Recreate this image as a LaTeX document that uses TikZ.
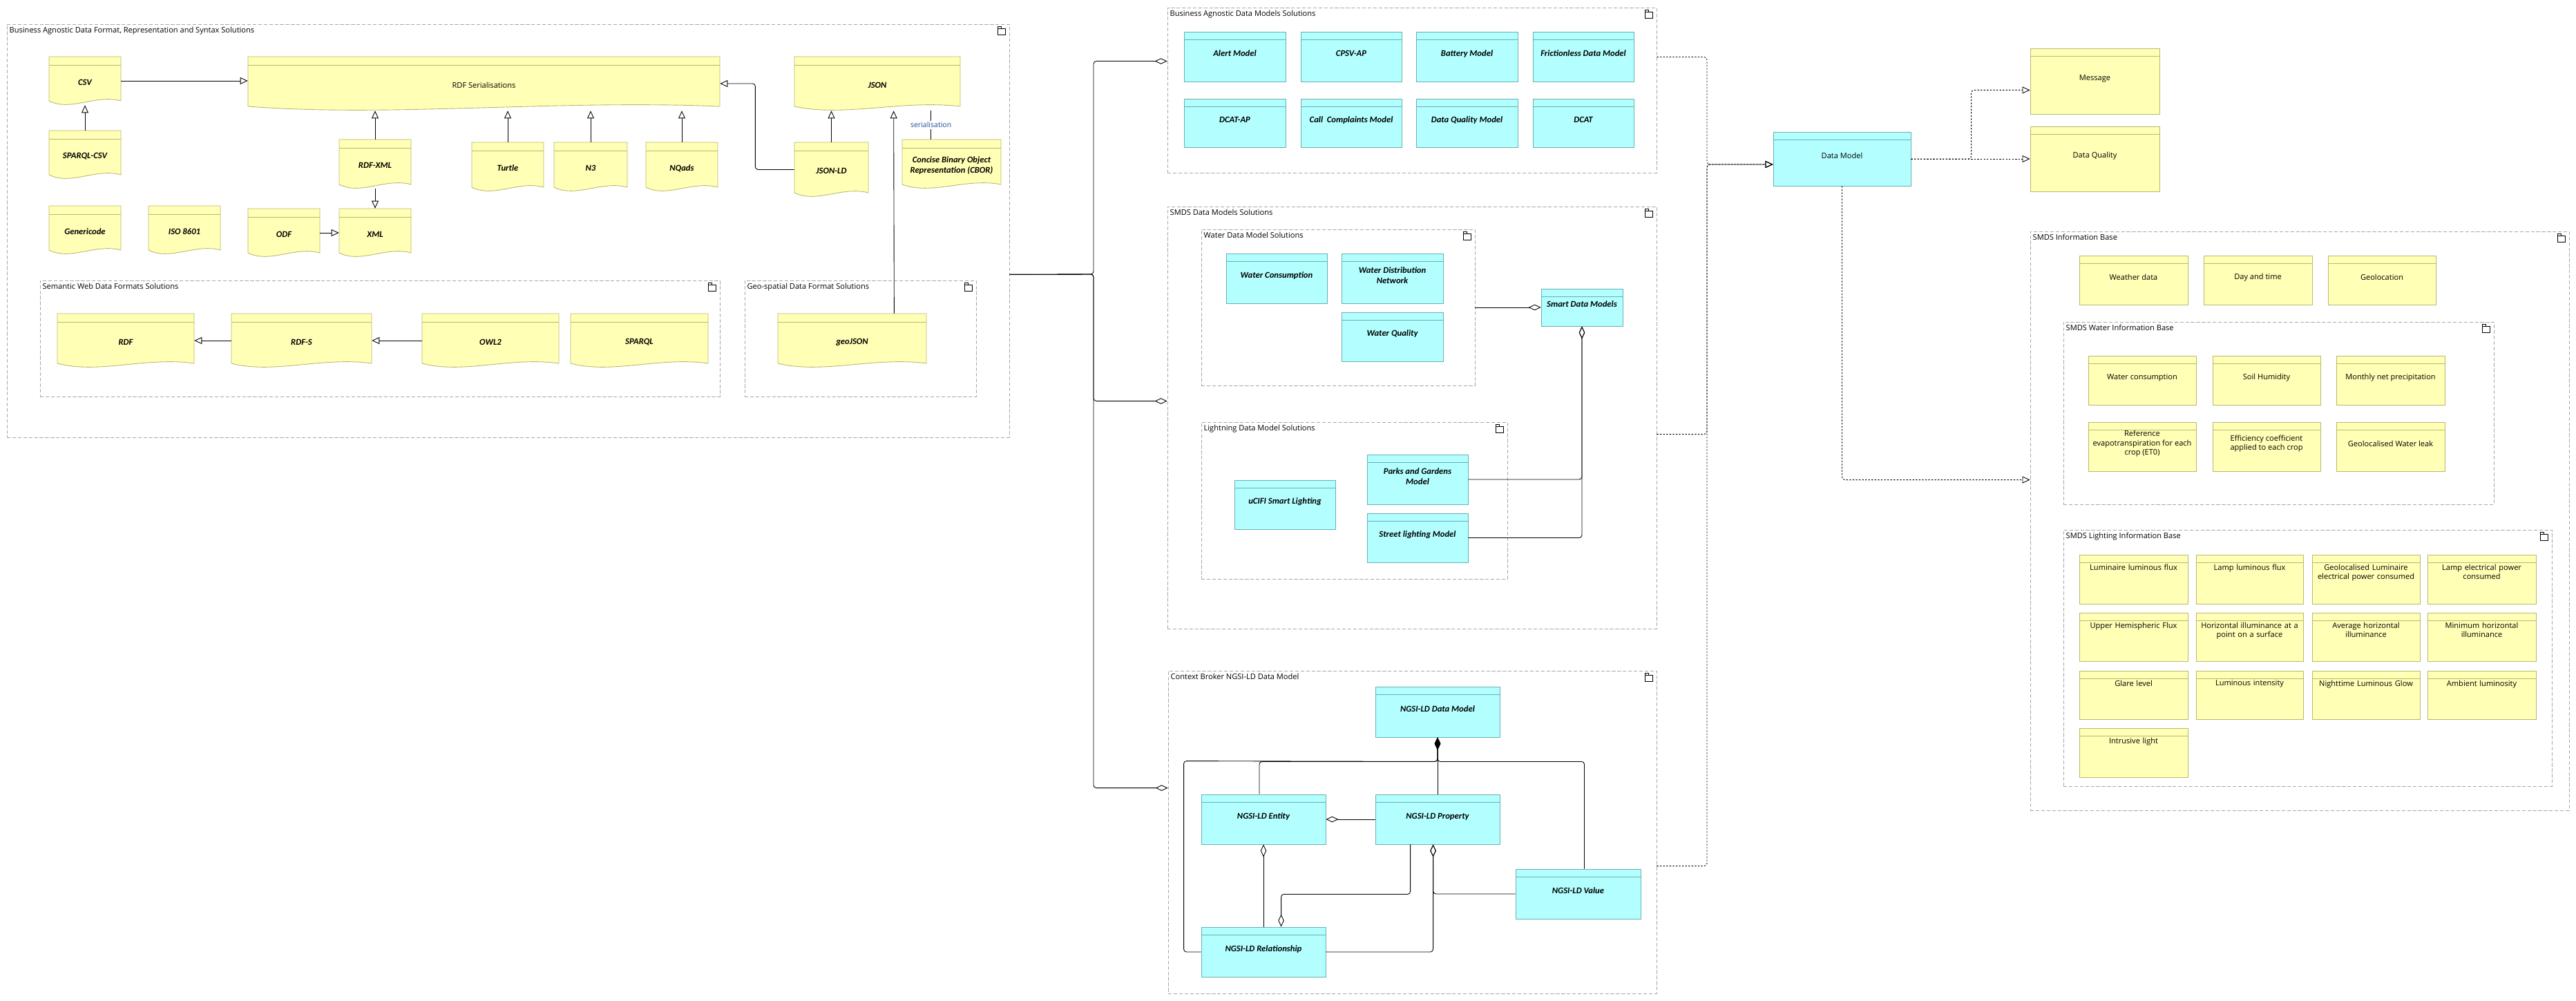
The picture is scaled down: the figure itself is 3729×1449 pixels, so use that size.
\documentclass[tikz,border=0pt]{standalone}
\usepackage{fontspec}
\setmainfont{Carlito}
\newfontfamily\osans{Open Sans}
\usetikzlibrary{arrows.meta,calc,fit}
\definecolor{yfill}{HTML}{FFFFB5}
\definecolor{yedge}{HTML}{B8B870}
\definecolor{cfill}{HTML}{B3FFFF}
\definecolor{cedge}{HTML}{6AAFAF}
\definecolor{cgray}{HTML}{A8A8A8}
\definecolor{serblue}{HTML}{1F4E9A}
\newcommand\pl{\osans\upshape\mdseries\fontsize{6.3}{7.6}\selectfont}
\newcommand\mkbox[7]{%
  \node[#1box, fit={(#3,#4)(#5,#6)}] (#2) {#7};
  \draw[#1line] ($(#2.north west)+(0,12)$) -- ($(#2.north east)+(0,12)$);}
\newcommand\mkdoc[6]{%
  \node[dbox, fit={(#2,#3)(#4,#5)}] (#1) {};
  \filldraw[yline, fill=yfill] ({#2},{#5-6}) -- (#2,#3) -- (#4,#3) -- ({#4},{#5-6})
    .. controls ({#2+0.65*(#4-#2)},{#5-16}) and ({#2+0.3*(#4-#2)},{#5+10}) .. ({#2},{#5-6}) -- cycle;
  \draw[yline] ({#2},{#3+12}) -- ({#4},{#3+12});
  \node[dtext] (#1-t) at ({(#2+#4)/2},{(#3+#5)/2+2}) {#6};}
\newcommand\mkcont[6]{%
  \node[cont, fit={(#2,#3)(#4,#5)}] (#1) {};
  \node[ctitle, anchor=north west] (#1-t) at ($(#1.north west)+(2,2)$) {#6};
  \draw[line width=0.4pt] ($(#1.north east)+(-17,7)$) rectangle ($(#1.north east)+(-6,16)$);
  \draw[line width=0.4pt] ($(#1.north east)+(-17,7)$) -- ($(#1.north east)+(-17,4)$) -- ($(#1.north east)+(-12,4)$) -- ($(#1.north east)+(-12,7)$);}
\newcommand\lbox[6]{\mkbox{y}{#1}{#2}{#3}{#4}{#5}{}%
  \node[ytext, anchor=north, inner sep=1pt] (#1-t) at ($(#1.north)+(0,12)$) {#6};}
\begin{document}
\begin{tikzpicture}[x=0.02cm,y=-0.02cm,
  ybox/.style={draw=yedge, fill=yfill, line width=0.5pt, inner sep=0pt, align=center, font=\pl},
  yline/.style={draw=yedge, line width=0.5pt},
  cbox/.style={draw=cedge, fill=cfill, line width=0.5pt, inner sep=0pt, align=center, font=\fontsize{7.2}{8.6}\selectfont\bfseries\itshape},
  cline/.style={draw=cedge, line width=0.5pt},
  dbox/.style={inner sep=0pt},
  dtext/.style={align=center, font=\fontsize{7.2}{8.6}\selectfont\bfseries\itshape},
  ytext/.style={align=center, text width=2.9cm, font=\pl},
  cont/.style={draw=cgray, dash pattern=on 3pt off 1.5pt, line width=0.5pt, inner sep=0pt},
  ctitle/.style={inner sep=1pt, font=\osans\fontsize{6.3}{7.5}\selectfont},
  con/.style={draw, line width=0.5pt, rounded corners=0.08cm},
  gen/.style={con, -{Triangle[open, length=0.22cm, width=0.2cm]}},
  dgen/.style={gen, dash pattern=on 1.3pt off 1.3pt},
  agg/.style={con, -{Diamond[open, length=0.36cm, width=0.17cm]}},
  comp/.style={con, -{Diamond[length=0.36cm, width=0.17cm]}}]
\useasboundingbox[fill=white] (0,0) rectangle (3729,1449);

% ---------- left panel ----------
\mkcont{leftc}{10}{35}{1461}{633}{Business Agnostic Data Format, Representation and Syntax Solutions}
\mkcont{semc}{58}{406}{1042}{574}{Semantic Web Data Formats Solutions}
\mkcont{geoc}{1078}{406}{1413}{574}{Geo-spatial Data Format Solutions}
\mkdoc{csv}{71}{82}{175}{152}{CSV}
\mkdoc{rdfser}{359}{82}{1042}{160}{\pl RDF Serialisations}
\mkdoc{json}{1150}{82}{1390}{160}{JSON}
\mkdoc{sparqlcsv}{71}{189}{175}{259}{SPARQL-CSV}
\mkdoc{rdfxml}{491}{202}{595}{273}{RDF-XML}
\mkdoc{turtle}{683}{206}{787}{277}{Turtle}
\mkdoc{nthree}{802}{206}{908}{277}{N3}
\mkdoc{nqads}{935}{206}{1039}{277}{NQads}
\mkdoc{jsonld}{1150}{206}{1257}{285}{JSON-LD}
\mkdoc{cbor}{1306}{202}{1449}{273}{Concise Binary Object\\Representation (CBOR)}
\mkdoc{genericode}{71}{298}{175}{368}{Genericode}
\mkdoc{iso}{215}{298}{319}{368}{ISO 8601}
\mkdoc{odf}{359}{302}{463}{372}{ODF}
\mkdoc{xml}{491}{302}{595}{372}{XML}
\mkdoc{rdf}{83}{454}{281}{532}{RDF}
\mkdoc{rdfs}{335}{454}{538}{532}{RDF-S}
\mkdoc{owl}{611}{454}{809}{532}{OWL2}
\mkdoc{sparql}{826}{454}{1025}{532}{SPARQL}
\mkdoc{geojson}{1126}{454}{1341}{532}{geoJSON}

\draw[gen] (csv.east) -- (csv.east -| rdfser.west);
\draw[gen] (sparqlcsv.north) -- (csv.south);
\draw[gen] (rdfxml.north) -- (rdfxml.north |- rdfser.south);
\draw[gen] (turtle.north) -- (turtle.north |- rdfser.south);
\draw[gen] (nthree.north) -- (nthree.north |- rdfser.south);
\draw[gen] (nqads.north) -- (nqads.north |- rdfser.south);
\draw[gen] (rdfxml.south) -- (xml.north);
\draw[gen] (odf.east) -- (xml.west);
\draw[gen] (jsonld.north) -- (jsonld.north |- json.south);
\draw[gen] (jsonld.west) -| ($(rdfser.east)+(51,0)$) -- (rdfser.east);
\draw[gen] ($(geojson.north east)+(-47,0)$) -- ($(json.south west)+(144,0)$);
\draw[con] ($(json.south west)+(198,0)$) -- ($(cbor.north west)+(42,0)$)
  node[midway, fill=white, inner sep=1pt, text=serblue, font=\osans\fontsize{6}{7}\selectfont] (serl) {serialisation};
\draw[gen] (rdfs.west) -- (rdf.east);
\draw[gen] (owl.west) -- (rdfs.east);

% ---------- middle panel ----------
\mkcont{bizc}{1690}{11}{2398}{250}{Business Agnostic Data Models Solutions}
\mkbox{c}{alert}{1714}{46}{1861}{118}{Alert Model}
\mkbox{c}{cpsv}{1883}{46}{2029}{118}{CPSV-AP}
\mkbox{c}{battery}{2050}{46}{2197}{118}{Battery Model}
\mkbox{c}{friction}{2219}{46}{2365}{118}{Frictionless Data Model}
\mkbox{c}{dcatap}{1714}{143}{1861}{213}{DCAT-AP}
\mkbox{c}{call}{1883}{143}{2029}{213}{Call~ Complaints Model}
\mkbox{c}{dqm}{2050}{143}{2197}{213}{Data Quality Model}
\mkbox{c}{dcat}{2219}{143}{2365}{213}{DCAT}

\mkcont{smdsc}{1690}{299}{2398}{910}{SMDS Data Models Solutions}
\mkcont{waterc}{1739}{332}{2135}{558}{Water Data Model Solutions}
\mkbox{c}{wcons}{1775}{367}{1921}{439}{Water Consumption}
\mkbox{c}{wdist}{1942}{367}{2089}{439}{Water Distribution\\Network}
\mkbox{c}{wqual}{1942}{452}{2089}{523}{Water Quality}
\mkbox{c}{sdm}{2231}{418}{2349}{472}{Smart Data Models}
\mkcont{lightc}{1739}{611}{2182}{838}{Lightning Data Model Solutions}
\mkbox{c}{ucifi}{1787}{695}{1933}{766}{uCIFI Smart Lighting}
\mkbox{c}{parks}{1979}{658}{2125}{730}{Parks and Gardens\\Model}
\mkbox{c}{street}{1979}{743}{2125}{814}{Street lighting Model}
\draw[agg] (waterc.east) -- (sdm.west);
\draw[agg] (parks.east) -| (sdm.south);
\draw[agg] (street.east) -| (sdm.south);

\mkcont{ctxc}{1691}{971}{2398}{1438}{Context Broker NGSI-LD Data Model}
\mkbox{c}{ngdm}{1991}{994}{2171}{1067}{NGSI-LD Data Model}
\mkbox{c}{ent}{1739}{1150}{1919}{1222}{NGSI-LD Entity}
\mkbox{c}{prop}{1991}{1150}{2171}{1222}{NGSI-LD Property}
\mkbox{c}{val}{2194}{1258}{2375}{1330}{NGSI-LD Value}
\mkbox{c}{rel}{1739}{1342}{1919}{1414}{NGSI-LD Relationship}
\draw[comp] ($(ent.north)+(-6,0)$) |- ($(ngdm.south)+(0,35)$) -- (ngdm.south);
\draw[comp] (prop.north) -- (ngdm.south);
\draw[comp] ($(val.north)+(9,0)$) |- ($(ngdm.south)+(0,35)$) -- (ngdm.south);
\draw[comp] (rel.west) -| ($(ent.north west)+(-25,-48)$) -- ($(ngdm.south)+(0,35)$) -- (ngdm.south);
\draw[agg] (prop.west) -- (ent.east);
\draw[agg] (rel.north) -- (ent.south);
\draw[agg] ($(prop.south west)+(51,0)$) -- ($(prop.south west)+(51,72)$) -| ($(rel.north west)+(116,0)$);
\draw[agg] (rel.east) -| ($(prop.south west)+(84,0)$);
\draw[agg] (val.west) -| ($(prop.south west)+(84,0)$);

% hub from left panel
\coordinate (hub) at (1583,397);
\draw[agg] ($(leftc.south east)+(0,-236)$) -- (hub) |- ($(bizc.north west)+(0,78)$);
\draw[agg] ($(leftc.south east)+(0,-236)$) -- (hub) |- ($(smdsc.north west)+(0,282)$);
\draw[agg] ($(leftc.south east)+(0,-236)$) -- (hub) |- ($(ctxc.north west)+(0,170)$);

% ---------- right ----------
\mkbox{c}{dm}{2567}{191}{2766}{269}{\pl Data Model}
\coordinate (dmhub) at (2471,238);
\draw[dgen] ($(bizc.north east)+(0,72)$) -| (dmhub) -- (dmhub -| dm.west);
\draw[dgen] ($(smdsc.north east)+(0,330)$) -| (dmhub) -- (dmhub -| dm.west);
\draw[dgen] ($(ctxc.north east)+(0,283)$) -| (dmhub) -- (dmhub -| dm.west);

\mkbox{y}{msg}{2939}{70}{3126}{165}{Message}
\mkbox{y}{dq}{2939}{183}{3126}{277}{Data Quality}
\draw[dgen] (dm.east) -- (dq.west);
\draw[dgen] (dm.east) -| ($(msg.south west)+(-85,-35)$) -- ($(msg.south west)+(0,-35)$);

\mkcont{ibase}{2939}{335}{3719}{1173}{SMDS Information Base}
\draw[dgen] (dm.south) |- ($(ibase.north west)+(0,360)$);
\mkbox{y}{weather}{3010}{370}{3167}{441}{Weather data}
\mkbox{y}{daytime}{3190}{370}{3347}{441}{Day and time}
\mkbox{y}{geoloc}{3370}{370}{3526}{441}{Geolocation}
\mkcont{wib}{2987}{466}{3610}{730}{SMDS Water Information Base}
\mkbox{y}{wc}{3023}{515}{3179}{586}{Water consumption}
\mkbox{y}{soil}{3203}{515}{3359}{586}{Soil Humidity}
\mkbox{y}{precip}{3382}{515}{3539}{586}{Monthly net precipitation}
\mkbox{y}{eto}{3023}{611}{3179}{682}{Reference\\evapotranspiration for each\\crop (ET0)}
\mkbox{y}{eff}{3203}{611}{3359}{682}{Efficiency coefficient\\applied to each crop}
\mkbox{y}{leak}{3382}{611}{3539}{682}{Geolocalised Water leak}
\mkcont{lib}{2987}{767}{3694}{1138}{SMDS Lighting Information Base}
\lbox{lf}{3010}{803}{3167}{874}{Luminaire luminous flux}
\lbox{llf}{3179}{803}{3334}{874}{Lamp luminous flux}
\lbox{glp}{3347}{803}{3503}{874}{Geolocalised Luminaire\\electrical power consumed}
\lbox{lep}{3514}{803}{3671}{874}{Lamp electrical power\\consumed}
\lbox{uhf}{3010}{887}{3167}{957}{Upper Hemispheric Flux}
\lbox{hip}{3179}{887}{3334}{957}{Horizontal illuminance at a\\point on a surface}
\lbox{ahi}{3347}{887}{3503}{957}{Average horizontal\\illuminance}
\lbox{mhi}{3514}{887}{3671}{957}{Minimum horizontal\\illuminance}
\lbox{glare}{3010}{971}{3167}{1041}{Glare level}
\lbox{lint}{3179}{971}{3334}{1041}{Luminous intensity}
\lbox{nlg}{3347}{971}{3503}{1041}{Nighttime Luminous Glow}
\lbox{amb}{3514}{971}{3671}{1041}{Ambient luminosity}
\lbox{intr}{3010}{1054}{3167}{1125}{Intrusive light}
\end{tikzpicture}
\end{document}
